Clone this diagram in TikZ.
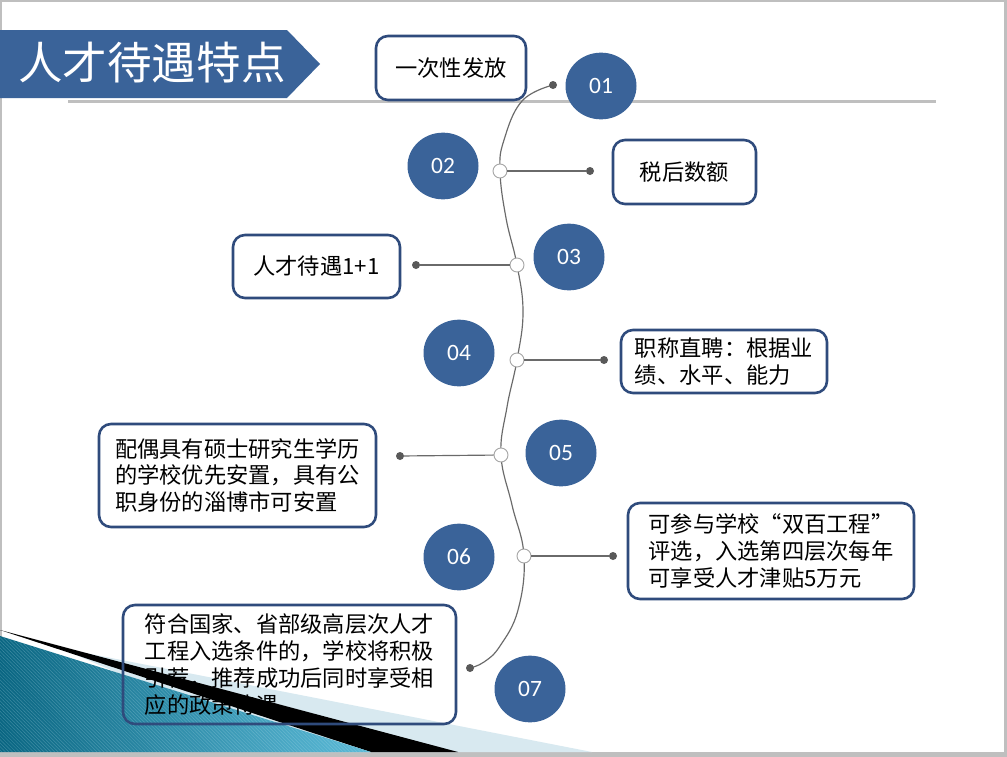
\documentclass[tikz,border=0pt]{standalone}
\usepackage{fontspec}
\setmainfont{Noto Sans CJK SC}
\newfontfamily\numfont{Carlito}
\usetikzlibrary{shapes.geometric,patterns}
\definecolor{slideblue}{HTML}{3A6399}
\definecolor{boxblue}{HTML}{2F4B7C}
\definecolor{spinegray}{HTML}{6A6A6A}
\definecolor{dotgray}{HTML}{595959}
\definecolor{rulegray}{HTML}{BFBFBF}
\definecolor{tealdark}{HTML}{0A6682}
\definecolor{teallight}{HTML}{5CBBD8}
\definecolor{paleblue}{HTML}{D8E9F0}

\begin{document}
\begin{tikzpicture}[x=0.03cm, y=-0.03cm,
  every node/.style={font=\fontsize{19}{23}\selectfont},
  num/.style={ellipse, fill=slideblue, text=white, minimum width=2.13cm, minimum height=2.0cm,
    inner sep=0pt, font=\numfont\fontsize{20}{24}\selectfont},
  hub/.style={circle, draw=gray!70, fill=white, line width=0.8pt, minimum size=0.42cm, inner sep=0pt},
  pin/.style={circle, fill=dotgray, minimum size=0.24cm, inner sep=0pt},
  infobox/.style={draw=boxblue, line width=2.2pt, rounded corners=0.36cm, align=left, inner sep=0pt},
  link/.style={draw=spinegray, line width=1pt}]
  \useasboundingbox (0,0) rectangle (1007,757);
  % slide frame
  \fill[rulegray] (0,0) rectangle (1007,757);
  \fill[white] (2,1.5) rectangle (1004,752);
  % corner decoration
  \fill[paleblue] (60,648) -- (592,752) -- (300,752) -- cycle;
  \fill[black] (0,630) -- (458,752) -- (371,752) -- cycle;
  \shade[left color=tealdark, right color=teallight] (0,636) -- (371,752) -- (0,752) -- cycle;
  \fill[pattern=north west lines, pattern color=white!60!teallight, opacity=0.25] (0,636) -- (371,752) -- (0,752) -- cycle;
  % title
  \fill[slideblue] (0,30) -- (287,30) -- (320,64) -- (287,98) -- (0,98) -- cycle;
  \node[text=white, font=\fontsize{38}{40}\selectfont] (T) at (152,63) {人才待遇特点};
  \draw[rulegray, line width=0.09cm] (68,101) -- (936,101);

  \coordinate (c1) at (553,85);  \coordinate (c2) at (500,171);
  \coordinate (c3) at (517,265); \coordinate (c4) at (517,360);
  \coordinate (c5) at (501,455); \coordinate (c6) at (524,556);
  \coordinate (c7) at (470,668);
  \draw[link] plot[smooth, tension=0.7] coordinates {(c1) (522,101) (504,140) (c2) (506,218) (c3)
      (523,312) (c4) (507,407) (c5) (512,505) (c6) (518,610) (500,646) (484,662) (c7)};

  \node[pin] (P1) at (c1) {};
  \node[hub] (H2) at (c2) {}; \node[pin] (P2) at (590,171) {}; \draw[link] (H2) -- (P2);
  \node[hub] (H3) at (c3) {}; \node[pin] (P3) at (416,265) {}; \draw[link] (H3) -- (P3);
  \node[hub] (H4) at (c4) {}; \node[pin] (P4) at (604,360) {}; \draw[link] (H4) -- (P4);
  \node[hub] (H5) at (c5) {}; \node[pin] (P5) at (400,456) {}; \draw[link] (H5) -- (P5);
  \node[hub] (H6) at (c6) {}; \node[pin] (P6) at (613,556) {}; \draw[link] (H6) -- (P6);
  \node[pin] (P7) at (c7) {};

  \node[num] (N1) at (601,86) {01};
  \node[num] (N2) at (443,166) {02};
  \node[num] (N3) at (569,257) {03};
  \node[num] (N4) at (459,353) {04};
  \node[num] (N5) at (561,453) {05};
  \node[num] (N6) at (459,557) {06};
  \node[num] (N7) at (530,689) {07};

  \node[infobox, minimum width=4.5cm, minimum height=1.92cm] (B1) at (451,68) {一次性发放};
  \node[infobox, minimum width=4.29cm, minimum height=1.92cm] (B2) at (684.5,172) {税后数额};
  \node[infobox, minimum width=5.01cm, minimum height=1.89cm] (B3) at (316.5,266.5) {人才待遇1+1};
  \node[infobox, minimum width=6.18cm, minimum height=1.89cm] (B4) at (724,361.5)
      {职称直聘：根据业\\绩、水平、能力};
  \node[infobox, minimum width=8.31cm, minimum height=3.09cm] (B5) at (237.5,475.5)
      {配偶具有硕士研究生学历\\的学校优先安置，具有公\\职身份的淄博市可安置};
  \node[infobox, minimum width=8.58cm, minimum height=2.88cm] (B6) at (771,551)
      {可参与学校“双百工程”\\评选，入选第四层次每年\\可享受人才津贴5万元};
  \node[infobox, minimum width=9.99cm, minimum height=3.57cm] (B7) at (289.5,664.5)
      {符合国家、省部级高层次人才\\工程入选条件的，学校将积极\\引荐，推荐成功后同时享受相\\应的政策待遇};
\end{tikzpicture}
\end{document}
